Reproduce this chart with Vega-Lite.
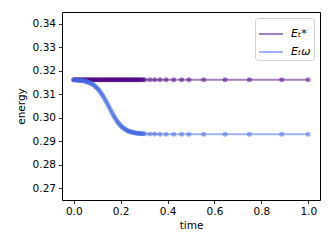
{
  "$schema": "https://vega.github.io/schema/vega-lite/v6.json",
  "width": 258,
  "height": 188,
  "autosize": "none",
  "padding": {"left": 62, "top": 12, "right": 12, "bottom": 49},
  "background": "white",
  "data": {"values": [
    {"series":"Eₜ*","time":0,"energy":0.3162},{"series":"Eₜ*","time":0.005,"energy":0.3162},{"series":"Eₜ*","time":0.01,"energy":0.3162},{"series":"Eₜ*","time":0.015,"energy":0.3162},{"series":"Eₜ*","time":0.02,"energy":0.3162},{"series":"Eₜ*","time":0.025,"energy":0.3162},{"series":"Eₜ*","time":0.03,"energy":0.3162},{"series":"Eₜ*","time":0.035,"energy":0.3162},{"series":"Eₜ*","time":0.04,"energy":0.3162},{"series":"Eₜ*","time":0.045,"energy":0.3162},
    {"series":"Eₜ*","time":0.05,"energy":0.3162},{"series":"Eₜ*","time":0.055,"energy":0.3162},{"series":"Eₜ*","time":0.06,"energy":0.3162},{"series":"Eₜ*","time":0.065,"energy":0.3162},{"series":"Eₜ*","time":0.07,"energy":0.3162},{"series":"Eₜ*","time":0.075,"energy":0.3162},{"series":"Eₜ*","time":0.08,"energy":0.3162},{"series":"Eₜ*","time":0.085,"energy":0.3162},{"series":"Eₜ*","time":0.09,"energy":0.3162},{"series":"Eₜ*","time":0.095,"energy":0.3162},
    {"series":"Eₜ*","time":0.10,"energy":0.3162},{"series":"Eₜ*","time":0.105,"energy":0.3162},{"series":"Eₜ*","time":0.11,"energy":0.3162},{"series":"Eₜ*","time":0.115,"energy":0.3162},{"series":"Eₜ*","time":0.12,"energy":0.3162},{"series":"Eₜ*","time":0.125,"energy":0.3162},{"series":"Eₜ*","time":0.13,"energy":0.3162},{"series":"Eₜ*","time":0.135,"energy":0.3162},{"series":"Eₜ*","time":0.14,"energy":0.3162},{"series":"Eₜ*","time":0.145,"energy":0.3162},
    {"series":"Eₜ*","time":0.15,"energy":0.3162},{"series":"Eₜ*","time":0.155,"energy":0.3162},{"series":"Eₜ*","time":0.16,"energy":0.3162},{"series":"Eₜ*","time":0.165,"energy":0.3162},{"series":"Eₜ*","time":0.17,"energy":0.3162},{"series":"Eₜ*","time":0.175,"energy":0.3162},{"series":"Eₜ*","time":0.18,"energy":0.3162},{"series":"Eₜ*","time":0.185,"energy":0.3162},{"series":"Eₜ*","time":0.19,"energy":0.3162},{"series":"Eₜ*","time":0.195,"energy":0.3162},
    {"series":"Eₜ*","time":0.20,"energy":0.3162},{"series":"Eₜ*","time":0.205,"energy":0.3162},{"series":"Eₜ*","time":0.21,"energy":0.3162},{"series":"Eₜ*","time":0.215,"energy":0.3162},{"series":"Eₜ*","time":0.22,"energy":0.3162},{"series":"Eₜ*","time":0.225,"energy":0.3162},{"series":"Eₜ*","time":0.23,"energy":0.3162},{"series":"Eₜ*","time":0.235,"energy":0.3162},{"series":"Eₜ*","time":0.24,"energy":0.3162},{"series":"Eₜ*","time":0.245,"energy":0.3162},
    {"series":"Eₜ*","time":0.25,"energy":0.3162},{"series":"Eₜ*","time":0.255,"energy":0.3162},{"series":"Eₜ*","time":0.26,"energy":0.3162},{"series":"Eₜ*","time":0.265,"energy":0.3162},{"series":"Eₜ*","time":0.27,"energy":0.3162},{"series":"Eₜ*","time":0.275,"energy":0.3162},{"series":"Eₜ*","time":0.28,"energy":0.3162},{"series":"Eₜ*","time":0.285,"energy":0.3162},{"series":"Eₜ*","time":0.29,"energy":0.3162},{"series":"Eₜ*","time":0.295,"energy":0.3162},
    {"series":"Eₜ*","time":0.303,"energy":0.3162},{"series":"Eₜ*","time":0.325,"energy":0.3162},{"series":"Eₜ*","time":0.345,"energy":0.3162},{"series":"Eₜ*","time":0.368,"energy":0.3162},{"series":"Eₜ*","time":0.394,"energy":0.3162},{"series":"Eₜ*","time":0.426,"energy":0.3162},{"series":"Eₜ*","time":0.460,"energy":0.3162},{"series":"Eₜ*","time":0.491,"energy":0.3162},{"series":"Eₜ*","time":0.554,"energy":0.3162},{"series":"Eₜ*","time":0.645,"energy":0.3162},{"series":"Eₜ*","time":0.749,"energy":0.3162},{"series":"Eₜ*","time":0.887,"energy":0.3162},{"series":"Eₜ*","time":1.0,"energy":0.3162},
    {"series":"Eₜω","time":0,"energy":0.31614},{"series":"Eₜω","time":0.005,"energy":0.31612},{"series":"Eₜω","time":0.01,"energy":0.31608},{"series":"Eₜω","time":0.015,"energy":0.31604},{"series":"Eₜω","time":0.02,"energy":0.31600},{"series":"Eₜω","time":0.025,"energy":0.31594},{"series":"Eₜω","time":0.03,"energy":0.31588},{"series":"Eₜω","time":0.035,"energy":0.31581},{"series":"Eₜω","time":0.04,"energy":0.31572},{"series":"Eₜω","time":0.045,"energy":0.31562},
    {"series":"Eₜω","time":0.05,"energy":0.31550},{"series":"Eₜω","time":0.055,"energy":0.31536},{"series":"Eₜω","time":0.06,"energy":0.31520},{"series":"Eₜω","time":0.065,"energy":0.31501},{"series":"Eₜω","time":0.07,"energy":0.31479},{"series":"Eₜω","time":0.075,"energy":0.31453},{"series":"Eₜω","time":0.08,"energy":0.31424},{"series":"Eₜω","time":0.085,"energy":0.31391},{"series":"Eₜω","time":0.09,"energy":0.31352},{"series":"Eₜω","time":0.095,"energy":0.31309},
    {"series":"Eₜω","time":0.10,"energy":0.31260},{"series":"Eₜω","time":0.105,"energy":0.31205},{"series":"Eₜω","time":0.11,"energy":0.31144},{"series":"Eₜω","time":0.115,"energy":0.31077},{"series":"Eₜω","time":0.12,"energy":0.31003},{"series":"Eₜω","time":0.125,"energy":0.30924},{"series":"Eₜω","time":0.13,"energy":0.30840},{"series":"Eₜω","time":0.135,"energy":0.30750},{"series":"Eₜω","time":0.14,"energy":0.30657},{"series":"Eₜω","time":0.145,"energy":0.30562},
    {"series":"Eₜω","time":0.15,"energy":0.30465},{"series":"Eₜω","time":0.155,"energy":0.30368},{"series":"Eₜω","time":0.16,"energy":0.30273},{"series":"Eₜω","time":0.165,"energy":0.30180},{"series":"Eₜω","time":0.17,"energy":0.30090},{"series":"Eₜω","time":0.175,"energy":0.30006},{"series":"Eₜω","time":0.18,"energy":0.29927},{"series":"Eₜω","time":0.185,"energy":0.29853},{"series":"Eₜω","time":0.19,"energy":0.29786},{"series":"Eₜω","time":0.195,"energy":0.29725},
    {"series":"Eₜω","time":0.20,"energy":0.29670},{"series":"Eₜω","time":0.205,"energy":0.29621},{"series":"Eₜω","time":0.21,"energy":0.29578},{"series":"Eₜω","time":0.215,"energy":0.29539},{"series":"Eₜω","time":0.22,"energy":0.29506},{"series":"Eₜω","time":0.225,"energy":0.29477},{"series":"Eₜω","time":0.23,"energy":0.29451},{"series":"Eₜω","time":0.235,"energy":0.29429},{"series":"Eₜω","time":0.24,"energy":0.29410},{"series":"Eₜω","time":0.245,"energy":0.29394},
    {"series":"Eₜω","time":0.25,"energy":0.29380},{"series":"Eₜω","time":0.255,"energy":0.29368},{"series":"Eₜω","time":0.26,"energy":0.29358},{"series":"Eₜω","time":0.265,"energy":0.29349},{"series":"Eₜω","time":0.27,"energy":0.29342},{"series":"Eₜω","time":0.275,"energy":0.29336},{"series":"Eₜω","time":0.28,"energy":0.29330},{"series":"Eₜω","time":0.285,"energy":0.29326},{"series":"Eₜω","time":0.29,"energy":0.29322},{"series":"Eₜω","time":0.295,"energy":0.29318},
    {"series":"Eₜω","time":0.303,"energy":0.29314},{"series":"Eₜω","time":0.325,"energy":0.29308},{"series":"Eₜω","time":0.345,"energy":0.29305},{"series":"Eₜω","time":0.368,"energy":0.29303},{"series":"Eₜω","time":0.394,"energy":0.29302},{"series":"Eₜω","time":0.426,"energy":0.29301},{"series":"Eₜω","time":0.460,"energy":0.2930},{"series":"Eₜω","time":0.491,"energy":0.2930},{"series":"Eₜω","time":0.554,"energy":0.2930},{"series":"Eₜω","time":0.645,"energy":0.2930},{"series":"Eₜω","time":0.749,"energy":0.2930},{"series":"Eₜω","time":0.887,"energy":0.2930},{"series":"Eₜω","time":1.0,"energy":0.2930}
  ]},
  "encoding": {
    "x": {"field": "time", "type": "quantitative", "title": "time",
      "scale": {"domain": [-0.05, 1.05], "nice": false, "zero": false},
      "axis": {"values": [0, 0.2, 0.4, 0.6, 0.8, 1.0], "format": ".1f", "titlePadding": 3}},
    "y": {"field": "energy", "type": "quantitative", "title": "energy",
      "scale": {"domain": [0.265, 0.345], "nice": false, "zero": false},
      "axis": {"values": [0.27, 0.28, 0.29, 0.30, 0.31, 0.32, 0.33, 0.34], "format": ".2f", "titlePadding": 6}},
    "color": {"field": "series", "type": "nominal", "title": null,
      "scale": {"domain": ["Eₜ*", "Eₜω"], "range": ["#4B0082", "#4169E1"]},
      "legend": {"orient": "top-right", "offset": 6, "symbolType": "stroke", "symbolSize": 576,
        "symbolStrokeWidth": 2, "symbolOpacity": 0.5, "labelFont": "DejaVu Sans", "labelFontSize": 11,
        "labelFontStyle": "italic", "labelColor": "black", "labelOffset": 7, "rowPadding": -5,
        "fillColor": "white", "strokeColor": "#d0d0d0", "cornerRadius": 3, "padding": 3}}
  },
  "layer": [
    {"mark": {"type": "line", "strokeWidth": 2, "opacity": 0.5}},
    {"mark": {"type": "point", "filled": true, "size": 25, "opacity": 0.5}}
  ],
  "config": {
    "view": {"stroke": "black", "strokeWidth": 1},
    "axis": {"domain": false, "grid": false, "ticks": true, "tickColor": "black", "tickSize": 3.5, "tickWidth": 0.8,
      "labelFont": "DejaVu Sans", "labelFontSize": 10.5, "labelColor": "black", "labelPadding": 3,
      "titleFont": "DejaVu Sans", "titleFontSize": 10.5, "titleFontWeight": "normal", "titleColor": "black"}
  }
}
